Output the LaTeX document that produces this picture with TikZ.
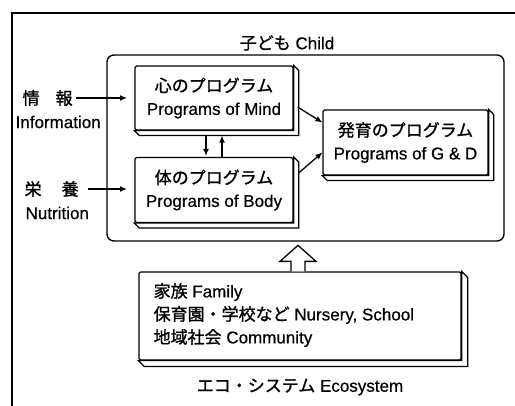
\documentclass[tikz,border=0pt]{standalone}
\usepackage{fontspec}
\setmainfont{Liberation Sans}[FakeBold=0.6]
\newfontfamily\jp{Noto Sans CJK JP}[FakeBold=1.2]
\usetikzlibrary{calc,arrows.meta}
\newcommand\mkslab[2]{%
  \draw[fill=white] (#1.north east) -- ++(#2,#2) -- ($(#1.south east)+(#2,#2)$) -- ($(#1.south west)+(#2,#2)$) -- (#1.south west) -- (#1.south east) -- cycle;}
\begin{document}
\begin{tikzpicture}[x=1pt,y=-1pt,
  font=\fontsize{17}{23}\selectfont,
  line width=1.25pt,
  box/.style={draw, fill=white, rounded corners=1.5pt, minimum width=158pt, minimum height=64pt, inner sep=0pt, align=center},
  lbl/.style={inner sep=0pt, anchor=west},
  arr/.style={-{Latex[length=7pt,width=6pt]}, line width=1.3pt}]
\useasboundingbox (0,0) rectangle (515,406);
\fill[white] (0,0) rectangle (515,406);
\draw[line width=1.5pt] (12,412) -- (12,13) -- (520,13);

\node (title) at (287,43) {{\jp 子ども} Child};
\node[draw, rounded corners=7pt, minimum width=397pt, minimum height=186pt, line width=1.4pt] (child) at (305.5,148) {};

\node[box] (mind) at (214,98) {{\jp 心のプログラム}\\Programs of Mind};
\mkslab{mind}{5}
\node[box, minimum height=65pt] (body) at (214,190) {{\jp 体のプログラム}\\Programs of Body};
\mkslab{body}{5}
\node[box, minimum width=165pt, minimum height=65pt] (gd) at (405.5,142.5) {{\jp 発育のプログラム}\\Programs of G \& D};
\mkslab{gd}{5}

\draw[arr] ($(mind.east)+(4,9)$) -- ($(gd.west)+(0,-20)$);
\draw[arr] ($(body.east)+(5,-17)$) -- ($(gd.west)+(0,10)$);
\draw[arr] ($(mind.south)+(-8,4)$) -- ($(body.north)+(-8,-1)$);
\draw[arr] ($(body.north)+(8,0)$) -- ($(mind.south)+(8,5)$);

\node[lbl] (info) at (22,98) {{\jp 情\hspace{16pt}報}};
\node[lbl] (infoen) at (15,122) {Information};
\coordinate (infoend) at (127,98);
\draw[arr] ($(info.east)+(3,0)$) -- (infoend);
\node[lbl] (nut) at (24,189) {{\jp 栄\hspace{20pt}養}};
\node[lbl] (nuten) at (25,213) {Nutrition};
\coordinate (nutend) at (127,189);
\draw[arr] ($(nut.east)+(9,0)$) -- (nutend);

\node[box, minimum width=322pt, minimum height=88pt] (eco) at (300,316) {};
\mkslab{eco}{6}
\node[lbl, align=left] (ecotext) at (153,315) {{\jp 家族} Family\\{\jp 保育園・学校など} Nursery, School\\{\jp 地域社会} Community};
\draw[fill=white, line width=1.3pt] ($(eco.north)+(-9,0)$) -- ++(0,-10) -- ++(-11,0) -- ++(18,-16) -- ++(18,16) -- ++(-11,0) -- ++(0,10);
\node (ecolabel) at (300,387) {{\jp エコ・システム} Ecosystem};
\end{tikzpicture}
\end{document}
